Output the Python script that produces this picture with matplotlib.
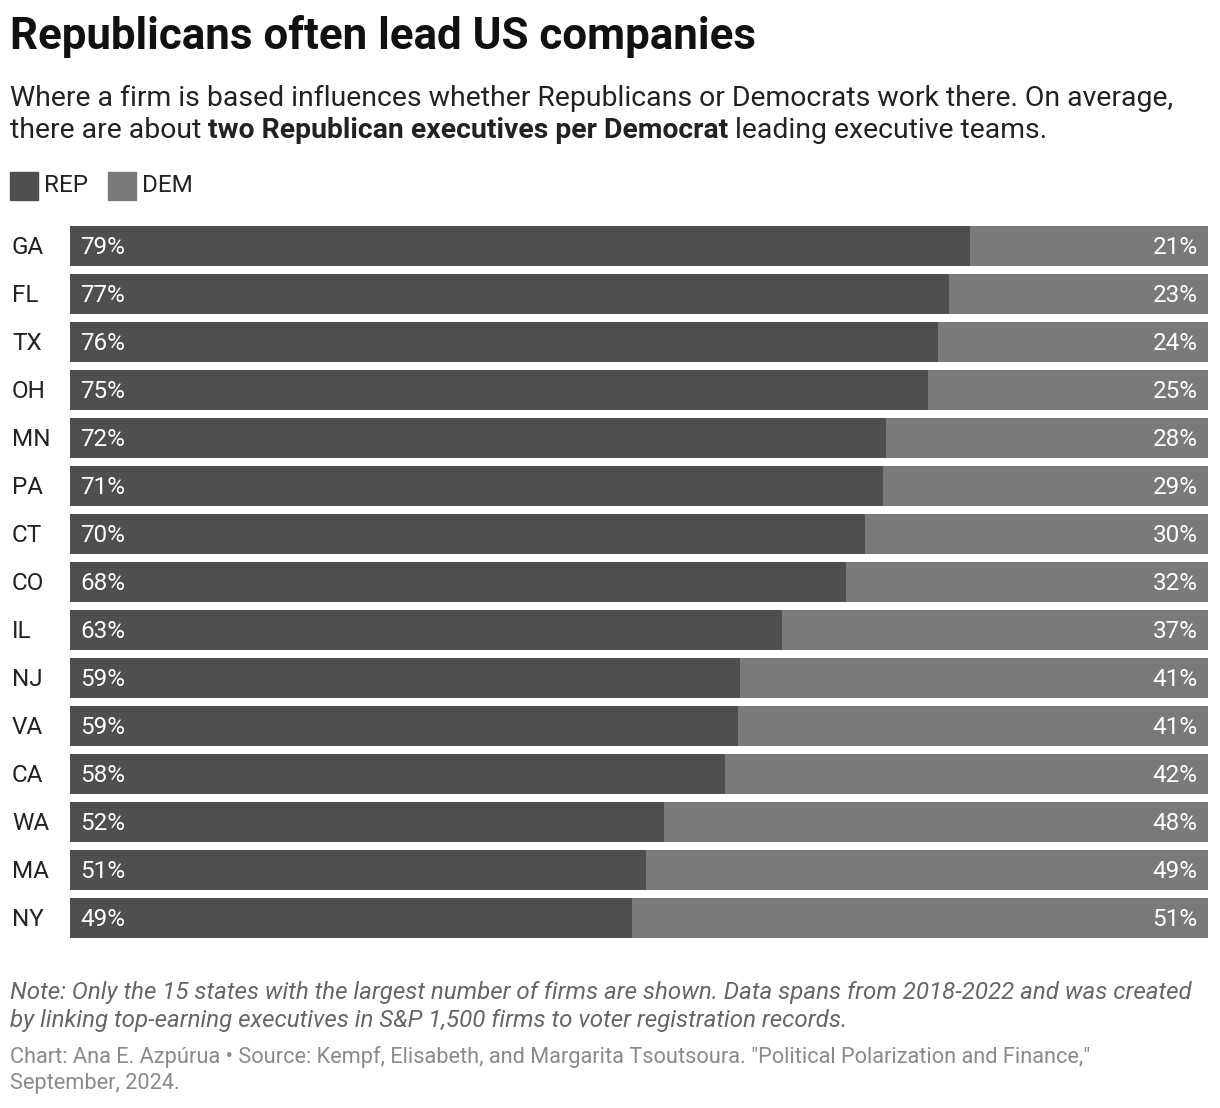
"""Stacked horizontal bars: party split of executives by state."""

import matplotlib
matplotlib.use("Agg")
import matplotlib.pyplot as plt
from matplotlib.patches import Rectangle

plt.rcParams["font.family"] = ["Roboto", "DejaVu Sans"]

states = ["GA", "FL", "TX", "OH", "MN", "PA", "CT", "CO", "IL", "NJ", "VA", "CA", "WA", "MA", "NY"]
rep = [79.1, 77.2, 76.3, 75.4, 71.7, 71.4, 69.9, 68.2, 62.6, 58.9, 58.7, 57.6, 52.2, 50.6, 49.4]
dem = [100 - r for r in rep]

REP_COLOR = "#4f4f4f"
DEM_COLOR = "#7a7a7a"

W, H = 1220, 1108
fig = plt.figure(figsize=(W / 100, H / 100), dpi=100)


def fx(px):
    return px / W


def fy(py):
    return 1 - py / H


# title and subtitle
fig.text(fx(10), fy(37), "Republicans often lead US companies", fontsize=31.6,
         fontweight="bold", va="center", ha="left", color="#111111")
fig.text(fx(10), fy(98), "Where a firm is based influences whether Republicans or Democrats "
         "work there. On average,", fontsize=20.4, va="center", ha="left", color="#222222")

renderer = fig.canvas.get_renderer()
x = fx(10)
for part, weight in [("there are about ", "normal"),
                     ("two Republican executives per Democrat", "bold"),
                     (" leading executive teams.", "normal")]:
    t = fig.text(x, fy(131), part, fontsize=20.4, fontweight=weight,
                 va="center", ha="left", color="#222222")
    bb = t.get_window_extent(renderer)
    x = bb.x1 / W

# legend
for lx, color, label in [(10, REP_COLOR, "REP"), (108, DEM_COLOR, "DEM")]:
    fig.patches.append(Rectangle((fx(lx), fy(200)), 28 / W, 28 / H, color=color,
                                 transform=fig.transFigure, figure=fig))
    fig.text(fx(lx + 34), fy(185), label, fontsize=17.5, va="center", ha="left",
             color="#222222")

# bars
ax = fig.add_axes([fx(70), fy(942), (1208 - 70) / W, 720 / H])
ypos = list(range(len(states)))
ax.barh(ypos, rep, height=40 / 48, color=REP_COLOR, linewidth=0)
ax.barh(ypos, dem, left=rep, height=40 / 48, color=DEM_COLOR, linewidth=0)
ax.set_xlim(0, 100)
ax.set_ylim(len(states) - 0.5, -0.5)
ax.axis("off")

for i, s in enumerate(states):
    ty = i + 0.04
    ax.text(-5.1, ty, s, fontsize=17.5, va="center", ha="left", color="#222222")
    ax.text(0.9, ty, f"{rep[i]:.0f}%", fontsize=17.5, va="center", ha="left", color="white")
    ax.text(99.1, ty, f"{dem[i]:.0f}%", fontsize=17.5, va="center", ha="right", color="white")

# notes
fig.text(fx(10), fy(993), "Note: Only the 15 states with the largest number of firms are shown. "
         "Data spans from 2018-2022 and was created", fontsize=17.4, style="italic",
         va="center", ha="left", color="#666666")
fig.text(fx(10), fy(1021), "by linking top-earning executives in S&P 1,500 firms to voter "
         "registration records.", fontsize=17.4, style="italic",
         va="center", ha="left", color="#666666")
fig.text(fx(10), fy(1057), "Chart: Ana E. Azpúrua \u2022 Source: Kempf, Elisabeth, and Margarita "
         "Tsoutsoura. \"Political Polarization and Finance,\"", fontsize=15.7,
         va="center", ha="left", color="#8a8a8a")
fig.text(fx(10), fy(1083), "September, 2024.", fontsize=15.7,
         va="center", ha="left", color="#8a8a8a")

fig.savefig("out.png", dpi=100)
